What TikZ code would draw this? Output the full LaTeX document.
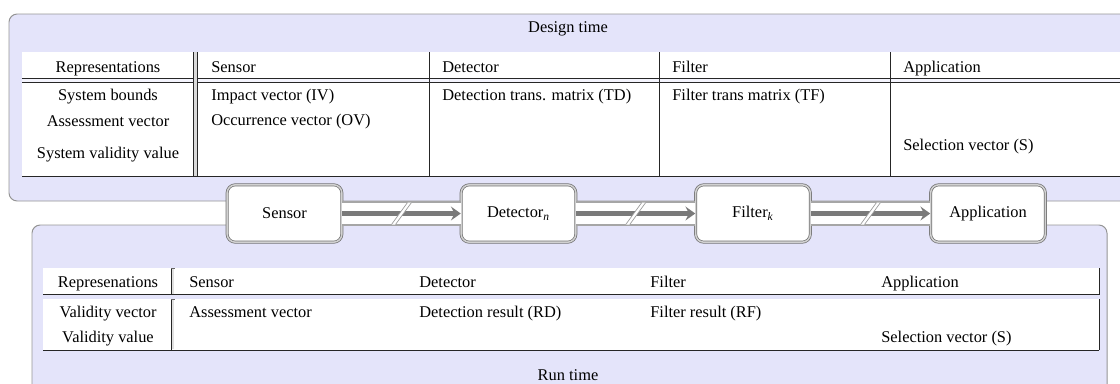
\documentclass[tikz,border=0pt]{standalone}
\usepackage{fontspec}
\setmainfont{Liberation Serif}
\usetikzlibrary{arrows.meta,calc}
\definecolor{lav}{HTML}{E4E4FA}
\definecolor{pborder}{HTML}{959595}
\begin{document}
\begin{tikzpicture}[x=0.61pt,y=-0.61pt,
  font=\fontsize{10}{12}\selectfont,
  panel/.style={draw=pborder,fill=lav,line width=0.6pt,rounded corners=5pt},
  rule/.style={draw=black!85,line width=0.5pt},
  lbl/.style={anchor=base west,inner sep=0pt},
  ctr/.style={anchor=base,inner sep=0pt},
  blk/.style={draw=black!55,double=black!18,double distance=0.9pt,line width=0.45pt,
    fill=white,rounded corners=5pt,minimum width=70pt,minimum height=35pt,inner sep=0pt},
  band/.style={line width=14.8pt,draw=black!35},
  bandin/.style={line width=13.4pt,draw=white},
  arr/.style={line width=2.9pt,draw=black!52,-{Stealth[length=6pt,width=8.5pt,inset=2.2pt]}},
  brk/.style={draw=black!40,line width=0.4pt}]
\useasboundingbox (0,0) rectangle (1120,383);
\clip (0,0) rectangle (1120,383);

% panels
\draw[panel] (9,14) rectangle (1150,201);
\draw[panel] (32,225) rectangle (1107,420);

% top table
\fill[white] (22,52) rectangle (1150,78.5);
\fill[lav!40] (22,78.5) rectangle (1150,82.5);
\fill[white] (22,82.5) rectangle (1150,176);
\draw[rule] (22,78.5) -- (1150,78.5) (22,82.5) -- (1150,82.5) (22,176) -- (1150,176);
\fill[black!15] (193.5,52) rectangle (197.5,176);
\draw[rule] (193.5,52) -- (193.5,176) (197.5,52) -- (197.5,176);
\draw[rule] (429,52) -- (429,176) (659,52) -- (659,176) (890.5,52) -- (890.5,176);

\node[ctr] (dt) at (568,32) {Design time};
\node[ctr] (trep) at (108,72) {Representations};
\node[lbl] (tsen) at (211,72) {Sensor};
\node[lbl] (tdet) at (442,72) {Detector};
\node[lbl] (tfil) at (672,72) {Filter};
\node[lbl] (tapp) at (903,72) {Application};
\node[ctr] (tb1) at (108,100) {System bounds};
\node[ctr] (tb2) at (108,126) {Assessment vector};
\node[ctr] (tb3) at (108,158) {System validity value};
\node[lbl] (tiv) at (211,100) {Impact vector (IV)};
\node[lbl] (tov) at (211,125.5) {Occurrence vector (OV)};
\node[lbl] (ttd) at (442,100) {Detection trans. matrix (TD)};
\node[lbl] (ttf) at (672,100) {Filter trans matrix (TF)};
\node[lbl] (tsv) at (903,150.5) {Selection vector (S)};

% bottom table
\fill[white] (43,268) rectangle (1099,294.5);
\fill[white] (43,299) rectangle (1099,350);
\draw[rule] (43,294.5) -- (1099,294.5) (43,350) -- (1099,350);
\draw[rule] (1099,268) -- (1099,294.5) (1099,299) -- (1099,350);
\draw[black!12,line width=1.2pt] (173.2,269) -- (173.2,294) (173.2,300) -- (173.2,349);
\draw[rule] (171,268) -- (171,294.5) (171,299) -- (171,350);
\draw[draw=black!60,line width=0.5pt] (171,268.3) -- (174.5,268.3) (171,299.3) -- (174.5,299.3);

\node[ctr] (brep) at (108,287) {Represenations};
\node[lbl] (bsen) at (189,287) {Sensor};
\node[lbl] (bdet) at (419,287) {Detector};
\node[lbl] (bfil) at (650,287) {Filter};
\node[lbl] (bapp) at (881,287) {Application};
\node[ctr] (bv1) at (108,317) {Validity vector};
\node[ctr] (bv2) at (108,342) {Validity value};
\node[lbl] (bav) at (189,317.5) {Assessment vector};
\node[lbl] (brd) at (419,317.5) {Detection result (RD)};
\node[lbl] (brf) at (650,317.5) {Filter result (RF)};
\node[lbl] (bsv) at (881,342) {Selection vector (S)};
\node[ctr] (rt) at (568,380.5) {Run time};

% blocks
\node[blk] (s) at (284.5,213.5) {Sensor};
\node[blk] (d) at (518.5,213.5) {Detector\textsubscript{\textit{n}}};
\node[blk] (f) at (753,213.5) {Filter\textsubscript{\textit{k}}};
\node[blk] (a) at (988,213.5) {Application};

\foreach \u/\v in {s/d,d/f,f/a}{
  \draw[band] (\u.east) -- (\v.west);
  \draw[bandin] (\u.east) -- (\v.west);
  \draw[arr] (\u.east) -- (\v.west);
  \coordinate (m) at ($(\u.east)!0.5!(\v.west)$);
  \fill[white] ($(m)+(-10,11)$) -- ($(m)+(-6,11)$) -- ($(m)+(10,-11)$) -- ($(m)+(6,-11)$) -- cycle;
  \draw[brk] ($(m)+(-10,11)$) -- ($(m)+(6,-11)$) ($(m)+(-6,11)$) -- ($(m)+(10,-11)$);
}
\end{tikzpicture}
\end{document}
